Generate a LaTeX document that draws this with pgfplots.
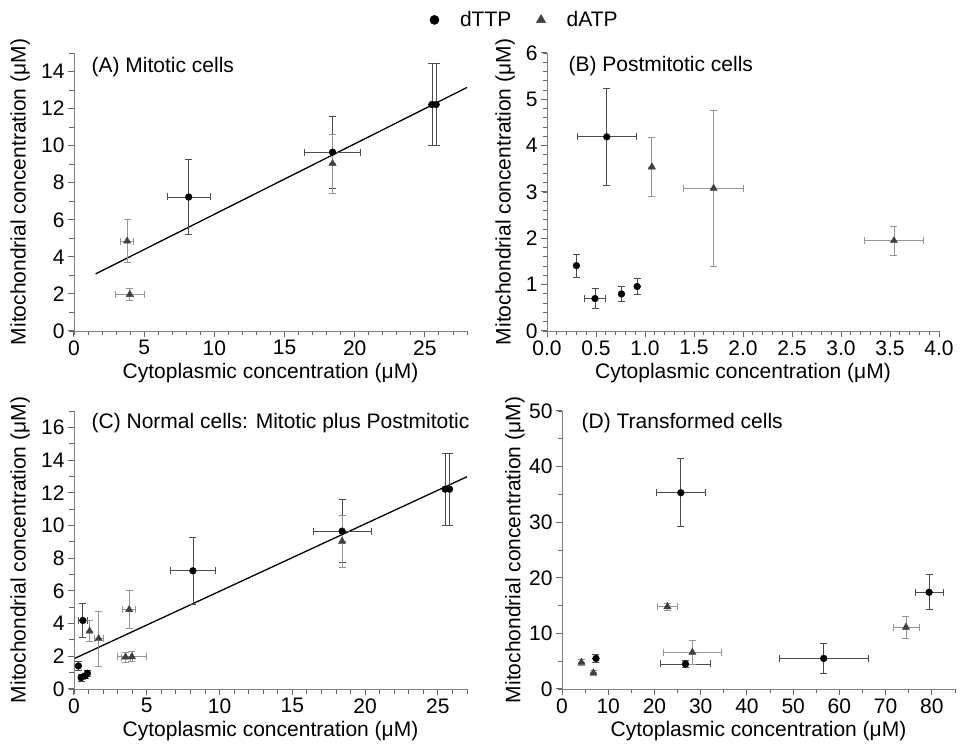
\documentclass[border=0pt]{standalone}
\usepackage{pgfplots}
\pgfplotsset{compat=1.18}
\usepackage{fontspec}
\setmainfont{Liberation Sans}

\newcommand{\bigfont}{\fontsize{21}{25}\selectfont}

\pgfplotsset{
  panel/.style={
    scale only axis,
    height=278pt,
    axis x line*=bottom,
    axis y line*=left,
    axis line style={black!50, line width=0.9pt},
    major tick style={black!60, line width=1pt},
    minor tick style={black!60, line width=0.9pt},
    tick align=outside,
    major tick length=6pt,
    minor tick length=4.5pt,
    tick label style={font=\bigfont},
    label style={font=\bigfont},
    /pgf/number format/assume math mode=true,
    xlabel={Cytoplasmic concentration (μM)},
    ylabel={Mitochondrial concentration (μM)},
    xlabel style={at={(axis description cs:0.5,-0.152)}, anchor=center},
    clip=false,
  },
  errxy/.style={
    error bars/x dir=both, error bars/x explicit,
    error bars/y dir=both, error bars/y explicit,
    error bars/error bar style={#1, line width=0.8pt},
    error bars/error mark options={rotate=90, #1, mark size=3.5pt, line width=0.8pt}},
  dttp/.style={only marks, mark=*, mark size=3.4pt, black, errxy=black!70},
  datp/.style={only marks, mark=triangle*, mark size=4.2pt, black!75, errxy=black!42},
  fitline/.style={black, line width=1.3pt, no marks},
}

% mitotic cells
\pgfplotstableread{
x     y     ex    ey
8.17  7.23  1.55  2.03
18.42 9.65  2.00  1.93
25.50 12.22 0     2.20
25.80 12.22 0     2.20
}\mitoticT
\pgfplotstableread{
x     y     ex    ey
3.79  4.85  0.45  1.17
3.98  1.97  1.02  0.31
18.42 9.03  0     1.60
}\mitoticA
% postmitotic cells
\pgfplotstableread{
x     y     ex    ey
0.30  1.41  0     0.25
0.49  0.70  0.11  0.22
0.76  0.80  0     0.155
0.92  0.96  0     0.17
0.61  4.19  0.30  1.05
}\postT
\pgfplotstableread{
x     y     ex    ey
1.07  3.54  0     0.63
1.70  3.08  0.305 1.69
3.54  1.95  0.305 0.315
}\postA
% transformed cells
\pgfplotstableread{
x     y     ex    ey
7.35  5.5   0     0.8
25.7  35.3  5.3   6.1
26.7  4.5   5.5   0.6
56.6  5.5   9.65  2.75
79.4  17.4  3.0   3.15
}\transT
\pgfplotstableread{
x     y     ex    ey
4.2   4.8   0     0.6
6.8   2.9   0     0.45
22.8  14.8  2.15  0.6
28.2  6.6   6.2   2.1
74.4  11.1  2.8   1.95
}\transA

\begin{document}
\begin{tikzpicture}
\useasboundingbox (0,0) rectangle (960pt,754pt);

% (A) Mitotic cells
\begin{axis}[panel, at={(74pt,423pt)}, anchor=south west, width=393pt,
  xmin=0, xmax=28, ymin=0, ymax=15,
  xtick={0,5,...,25}, ytick={0,2,...,14},
  minor xtick={0,1,...,28}, minor ytick={0,1,...,15},
  ylabel style={at={(axis description cs:-0.137,0.5)}, anchor=center},
  legend columns=2,
  legend style={at={(axis description cs:1.147,1.119)}, anchor=center,
    draw=none, fill=none, font=\bigfont,
    /tikz/every odd column/.append style={column sep=19pt},
    /tikz/every even column/.append style={column sep=23pt}},
]
\addlegendimage{only marks, mark=*, mark size=4.6pt, black}
\addlegendentry{dTTP}
\addlegendimage{only marks, mark=triangle*, mark size=5.4pt, black!75}
\addlegendentry{dATP}
\addplot[forget plot, fitline] coordinates {(1.54,3.08) (28,13.14)};
\addplot[forget plot, dttp] table[x=x, y=y, x error=ex, y error=ey] {\mitoticT};
\addplot[forget plot, datp] table[x=x, y=y, x error=ex, y error=ey] {\mitoticA};
\node[anchor=west, font=\bigfont] at (axis description cs:0.036,0.95) {(A) Mitotic cells};
\end{axis}

% (B) Postmitotic cells
\begin{axis}[panel, at={(547pt,423pt)}, anchor=south west, width=392pt,
  xmin=0, xmax=4, ymin=0, ymax=6,
  xtick={0,0.5,...,4}, ytick={0,1,...,6},
  xticklabel style={/pgf/number format/.cd, fixed, fixed zerofill, precision=1},
  minor xtick={0,0.1,...,4.01}, minor ytick={0,0.2,...,6.01},
  ylabel style={at={(axis description cs:-0.107,0.5)}, anchor=center},
]
\addplot[dttp] table[x=x, y=y, x error=ex, y error=ey] {\postT};
\addplot[datp] table[x=x, y=y, x error=ex, y error=ey] {\postA};
\node[anchor=west, font=\bigfont] at (axis description cs:0.046,0.954) {(B) Postmitotic cells};
\end{axis}

% (C) Normal cells: mitotic plus postmitotic
\begin{axis}[panel, at={(74pt,65pt)}, anchor=south west, width=393pt,
  xmin=0, xmax=27, ymin=0, ymax=17,
  xtick={0,5,...,25}, ytick={0,2,...,16},
  minor xtick={0,1,...,27}, minor ytick={0,1,...,17},
  ylabel style={at={(axis description cs:-0.137,0.5)}, anchor=center},
]
\addplot[fitline] coordinates {(0.07,1.88) (27,12.98)};
\addplot[dttp] table[x=x, y=y, x error=ex, y error=ey] {\mitoticT};
\addplot[dttp] table[x=x, y=y, x error=ex, y error=ey] {\postT};
\addplot[datp] table[x=x, y=y, x error=ex, y error=ey] {\mitoticA};
\addplot[datp] table[x=x, y=y, x error=ex, y error=ey] {\postA};
\node[anchor=west, font=\bigfont] at (axis description cs:0.036,0.956) {(C) Normal cells: Mitotic plus Postmitotic};
\end{axis}

% (D) Transformed cells
\begin{axis}[panel, at={(562pt,65pt)}, anchor=south west, width=393pt,
  xmin=0, xmax=85, ymin=0, ymax=50,
  xtick={0,10,...,80}, ytick={0,10,...,50},
  minor xtick={0,5,...,85}, minor ytick={0,5,...,50},
  ylabel style={at={(axis description cs:-0.12,0.5)}, anchor=center},
]
\addplot[dttp] table[x=x, y=y, x error=ex, y error=ey] {\transT};
\addplot[datp] table[x=x, y=y, x error=ex, y error=ey] {\transA};
\node[anchor=west, font=\bigfont] at (axis description cs:0.041,0.956) {(D) Transformed cells};
\end{axis}
\end{tikzpicture}
\end{document}
